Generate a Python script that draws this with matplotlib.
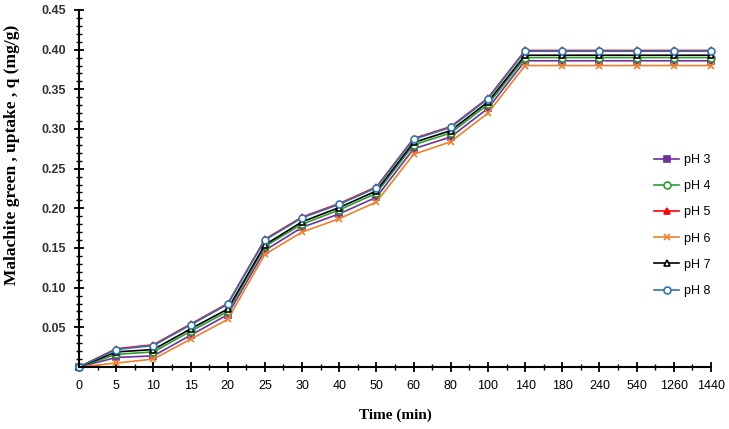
import matplotlib.pyplot as plt
from matplotlib.ticker import MultipleLocator, FixedLocator

# time points (min), plotted as equally spaced categories
times = ["0", "5", "10", "15", "20", "25", "30", "40", "50", "60", "80",
         "100", "140", "180", "240", "540", "1260", "1440"]

# uptake q (mg/g) for each pH
ph3 = [0, 0.012, 0.014, 0.040, 0.066, 0.147, 0.176, 0.193, 0.214, 0.275, 0.290,
       0.326, 0.386, 0.386, 0.386, 0.386, 0.386, 0.386]
ph4 = [0, 0.016, 0.019, 0.045, 0.070, 0.152, 0.180, 0.198, 0.219, 0.280, 0.295,
       0.331, 0.390, 0.390, 0.390, 0.390, 0.390, 0.390]
ph5 = [0, 0.023, 0.028, 0.054, 0.080, 0.161, 0.189, 0.206, 0.227, 0.288, 0.303,
       0.339, 0.399, 0.399, 0.399, 0.399, 0.399, 0.399]
ph6 = [0, 0.005, 0.010, 0.035, 0.060, 0.142, 0.170, 0.187, 0.208, 0.268, 0.284,
       0.320, 0.380, 0.380, 0.380, 0.380, 0.380, 0.380]
ph7 = [0, 0.019, 0.022, 0.048, 0.073, 0.154, 0.183, 0.201, 0.222, 0.283, 0.298,
       0.334, 0.393, 0.393, 0.393, 0.393, 0.393, 0.393]
ph8 = [0, 0.022, 0.027, 0.053, 0.079, 0.160, 0.188, 0.205, 0.226, 0.287, 0.302,
       0.338, 0.398, 0.398, 0.398, 0.398, 0.398, 0.398]

series = [
    ("pH 3", ph3, "#7030A0", "s", "#7030A0"),
    ("pH 4", ph4, "#2CA02C", "o", "white"),
    ("pH 5", ph5, "#FF0000", "^", "#FF0000"),
    ("pH 6", ph6, "#F07F2A", "x", "#F07F2A"),
    ("pH 7", ph7, "#000000", "^", "white"),
    ("pH 8", ph8, "#2E75B6", "o", "white"),
]

fig = plt.figure(figsize=(7.29, 4.29), dpi=100)
ax = fig.add_axes([79 / 729, 1 - 367 / 429, (711 - 79) / 729, (367 - 10) / 429])

xpos = list(range(len(times)))
for name, vals, col, mk, fc in series:
    ax.plot(xpos, vals, color=col, lw=1.2, marker=mk, markersize=5,
            markerfacecolor=fc, markeredgecolor=col, markeredgewidth=1.2,
            label=name, clip_on=False)

ax.set_xlim(0, len(times) - 1)
ax.set_ylim(0, 0.45)
ax.set_xticks(xpos)
ax.set_xticklabels(times, fontsize=9, family="Liberation Sans")
ax.xaxis.set_minor_locator(FixedLocator([i + 0.5 for i in xpos[:-1]]))
ax.set_yticks([0.05 * i for i in range(1, 10)])
ax.set_yticklabels(["%.2f" % (0.05 * i) for i in range(1, 10)], fontsize=9,
                   family="Liberation Sans", fontweight="bold", color="#333333")
ax.yaxis.set_minor_locator(MultipleLocator(0.01))

ax.tick_params(which="major", direction="inout", length=7, width=1.3, pad=6)
ax.tick_params(which="minor", direction="inout", length=4, width=1.0)
ax.spines["top"].set_visible(False)
ax.spines["right"].set_visible(False)
for s in ["left", "bottom"]:
    ax.spines[s].set_linewidth(1.5)

ax.set_ylabel("Malachite green , uptake , q (mg/g)", family="Liberation Serif",
              fontweight="bold", fontsize=12.5)
ax.yaxis.set_label_coords(-0.094, 0.594)
ax.set_xlabel("Time (min)", family="Liberation Serif", fontweight="bold",
              fontsize=11, labelpad=12)

ax.legend(loc="upper left", bbox_to_anchor=(648 / 729, 1 - 148 / 429),
          bbox_transform=fig.transFigure, frameon=False, handlelength=2.0,
          labelspacing=1.13, prop={"family": "Liberation Sans", "size": 9},
          borderpad=0, handletextpad=0.4)

plt.savefig("out.png", dpi=100)
